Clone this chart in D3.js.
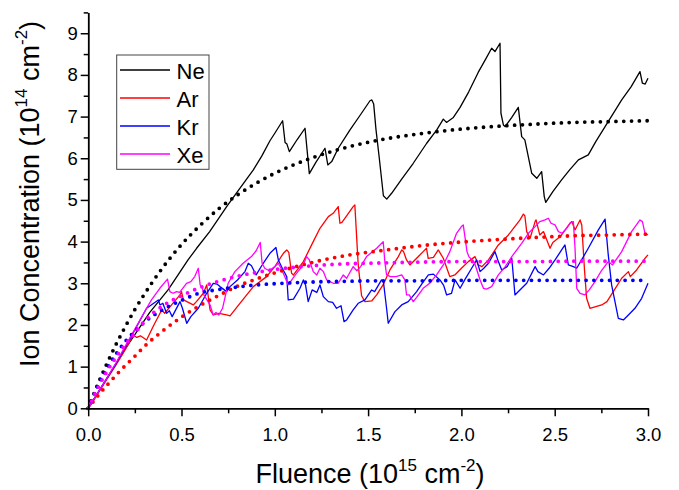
<!DOCTYPE html>
<html>
<head>
<meta charset="utf-8">
<script src="https://cdn.jsdelivr.net/npm/d3@7"></script>
<style>
  html, body { margin: 0; padding: 0; background: #ffffff; }
  svg { display: block; font-family: "Liberation Sans", Arial, sans-serif; }
</style>
</head>
<body>
<svg id="chart" width="679" height="490"></svg>
<script>
// Measured ion concentration (1e14 cm^-2) versus fluence (1e15 cm^-2), [fluence, concentration]
const neData = [[0,0],[0.05,0.36],[0.1,0.72],[0.15,1.08],[0.2,1.44],[0.267,1.88],[0.33,2.3],[0.428,2.84],[0.535,3.56],[0.581,3.84],[0.651,4.24],[0.742,4.84],[0.8,5.2],[0.885,5.72],[0.93,6.05],[0.974,6.42],[1.0,6.6],[1.042,6.9],[1.055,6.38],[1.065,6.34],[1.078,6.16],[1.12,6.45],[1.162,6.72],[1.185,5.63],[1.22,5.9],[1.269,6.24],[1.284,5.84],[1.305,5.92],[1.34,6.24],[1.403,6.68],[1.46,7.05],[1.51,7.38],[1.52,7.4],[1.53,7.3],[1.542,6.7],[1.56,6.0],[1.582,5.1],[1.6,5.02],[1.626,5.16],[1.68,5.5],[1.742,5.88],[1.814,6.36],[1.868,6.68],[1.903,6.94],[1.92,6.86],[1.957,6.98],[1.993,7.22],[2.04,7.6],[2.09,8.06],[2.13,8.38],[2.162,8.64],[2.18,8.56],[2.207,8.76],[2.212,7.08],[2.225,6.8],[2.234,6.76],[2.27,6.98],[2.305,7.22],[2.323,6.52],[2.34,6.44],[2.377,5.64],[2.404,5.52],[2.43,5.68],[2.444,5.08],[2.452,4.94],[2.49,5.2],[2.537,5.48],[2.58,5.72],[2.627,5.96],[2.68,6.08],[2.72,6.4],[2.77,6.76],[2.82,7.12],[2.859,7.4],[2.91,7.72],[2.957,8.08],[2.97,7.8],[2.985,7.78],[3.0,7.92]];

const arData = [[0,0],[0.05,0.34],[0.1,0.7],[0.15,1.05],[0.2,1.42],[0.242,1.76],[0.26,1.7],[0.28,1.74],[0.313,1.64],[0.35,1.98],[0.394,2.36],[0.41,2.28],[0.45,2.5],[0.492,2.72],[0.5,2.8],[0.51,2.6],[0.563,2.48],[0.58,2.56],[0.617,2.76],[0.635,2.96],[0.653,2.36],[0.67,2.24],[0.7,2.28],[0.742,2.24],[0.76,2.22],[0.813,2.52],[0.885,2.92],[0.956,3.16],[1.0,3.4],[1.046,3.72],[1.064,3.8],[1.075,3.74],[1.09,3.24],[1.1,3.2],[1.153,3.52],[1.206,4.0],[1.242,4.32],[1.287,4.6],[1.313,4.68],[1.34,4.84],[1.349,4.44],[1.36,4.46],[1.42,4.84],[1.429,4.88],[1.447,3.44],[1.465,2.7],[1.483,2.56],[1.52,2.58],[1.546,2.72],[1.58,2.96],[1.617,3.32],[1.662,3.64],[1.68,3.8],[1.69,3.76],[1.706,3.56],[1.724,3.44],[1.76,3.6],[1.795,3.76],[1.813,3.84],[1.822,3.6],[1.85,3.62],[1.876,3.8],[1.903,3.6],[1.938,3.16],[1.965,3.2],[2.0,3.36],[2.037,3.52],[2.073,3.64],[2.09,3.44],[2.11,3.4],[2.145,3.56],[2.198,3.92],[2.252,4.16],[2.279,4.32],[2.314,4.52],[2.332,4.66],[2.34,4.62],[2.35,4.24],[2.368,4.08],[2.395,4.48],[2.4,4.52],[2.42,4.16],[2.44,4.24],[2.475,3.84],[2.49,3.98],[2.53,4.12],[2.582,4.44],[2.592,4.48],[2.609,4.28],[2.636,4.52],[2.645,4.4],[2.66,3.3],[2.671,2.64],[2.689,2.4],[2.72,2.44],[2.752,2.48],[2.78,2.56],[2.814,2.8],[2.859,3.12],[2.895,3.28],[2.905,3.16],[2.939,3.32],[2.984,3.6],[3.0,3.68]];

const krData = [[0,0],[0.05,0.36],[0.1,0.72],[0.15,1.08],[0.2,1.48],[0.25,1.88],[0.313,2.4],[0.376,2.6],[0.385,2.48],[0.4,2.52],[0.42,2.28],[0.435,2.34],[0.45,2.2],[0.492,2.56],[0.505,2.4],[0.528,2.04],[0.55,2.2],[0.59,2.4],[0.635,2.76],[0.67,3.0],[0.69,2.98],[0.706,2.92],[0.742,2.8],[0.76,2.92],[0.8,3.08],[0.84,3.28],[0.858,3.48],[0.875,3.42],[0.9,3.2],[0.938,3.48],[0.974,3.72],[1.006,3.86],[1.019,3.56],[1.04,3.36],[1.064,3.16],[1.072,2.6],[1.1,2.62],[1.135,2.88],[1.153,3.08],[1.165,2.95],[1.179,2.56],[1.2,2.84],[1.225,2.78],[1.242,2.96],[1.26,2.68],[1.287,2.56],[1.31,2.54],[1.331,2.4],[1.355,2.46],[1.371,2.08],[1.385,2.12],[1.42,2.36],[1.447,2.52],[1.483,2.6],[1.501,2.72],[1.519,2.84],[1.535,2.8],[1.572,3.08],[1.582,3.04],[1.599,2.4],[1.608,2.04],[1.644,2.32],[1.68,2.48],[1.715,2.56],[1.76,2.8],[1.79,3.0],[1.823,3.2],[1.85,3.22],[1.885,3.08],[1.905,2.95],[1.921,2.72],[1.947,2.76],[1.966,3.08],[1.993,2.88],[2.02,3.1],[2.055,3.36],[2.082,3.56],[2.1,3.28],[2.12,3.36],[2.145,3.48],[2.18,3.76],[2.198,3.52],[2.216,3.32],[2.245,3.4],[2.27,3.6],[2.287,2.72],[2.323,2.88],[2.35,3.0],[2.395,3.4],[2.41,3.28],[2.44,3.2],[2.47,3.36],[2.502,3.56],[2.537,3.8],[2.555,3.92],[2.573,3.44],[2.6,3.4],[2.618,3.36],[2.68,3.84],[2.734,4.28],[2.77,4.54],[2.787,3.68],[2.805,2.96],[2.841,2.16],[2.868,2.12],[2.895,2.24],[2.93,2.4],[2.966,2.64],[3.0,3.0]];

const xeData = [[0,0],[0.05,0.36],[0.1,0.72],[0.15,1.1],[0.2,1.5],[0.25,1.9],[0.3,2.3],[0.339,2.6],[0.384,2.88],[0.425,3.1],[0.4375,2.8],[0.455,2.76],[0.473,2.8],[0.49,2.78],[0.527,3.0],[0.55,3.04],[0.571,3.16],[0.59,3.36],[0.6,2.96],[0.61,2.92],[0.62,2.72],[0.653,2.48],[0.67,2.24],[0.685,2.3],[0.7,2.24],[0.72,2.4],[0.75,3.0],[0.786,3.28],[0.83,3.48],[0.875,3.64],[0.9,3.78],[0.922,3.98],[0.932,3.48],[0.946,3.36],[0.97,3.3],[1.0,3.4],[1.019,3.48],[1.04,3.3],[1.072,2.96],[1.11,3.2],[1.153,3.44],[1.17,3.64],[1.185,3.56],[1.206,3.28],[1.225,3.2],[1.242,3.36],[1.26,3.28],[1.278,3.08],[1.313,3.0],[1.34,3.0],[1.367,3.2],[1.385,3.12],[1.4,3.24],[1.42,3.4],[1.44,3.3],[1.46,3.4],[1.492,3.64],[1.546,3.84],[1.581,4.0],[1.59,3.5],[1.599,3.2],[1.62,3.16],[1.65,3.16],[1.68,3.2],[1.697,3.08],[1.706,2.72],[1.72,2.72],[1.742,2.56],[1.76,2.66],[1.795,2.88],[1.83,3.0],[1.867,3.2],[1.903,3.44],[1.938,3.76],[1.974,4.2],[2.0,4.36],[2.01,4.4],[2.03,3.76],[2.04,3.64],[2.07,3.5],[2.1,3.08],[2.118,2.88],[2.135,2.86],[2.162,2.92],[2.198,3.2],[2.235,3.4],[2.27,3.64],[2.323,3.96],[2.359,4.2],[2.395,4.36],[2.42,4.48],[2.448,4.52],[2.466,4.56],[2.48,4.44],[2.502,4.4],[2.52,4.24],[2.54,4.2],[2.56,4.3],[2.582,4.44],[2.6,4.48],[2.609,3.84],[2.618,2.88],[2.636,2.76],[2.662,2.72],[2.685,2.84],[2.716,3.04],[2.75,3.3],[2.787,3.52],[2.81,3.44],[2.859,3.76],[2.912,4.24],[2.957,4.52],[2.97,4.48],[2.984,4.2],[3.0,4.16]];

// Saturation fits, sampled along the fluence grid below
const fitFluence = [0,0.05,0.1,0.15,0.2,0.25,0.3,0.4,0.5,0.6,0.7,0.8,0.9,1.0,1.2,1.4,1.6,1.8,2.0,2.2,2.4,2.6,2.8,3.0];
const neFit = [0,0.56,1.07,1.54,1.97,2.37,2.73,3.38,3.93,4.39,4.79,5.12,5.40,5.64,6.01,6.28,6.47,6.60,6.70,6.77,6.82,6.86,6.88,6.90];
const arFit = [0,0.29,0.55,0.80,1.03,1.25,1.48,1.86,2.19,2.47,2.71,2.93,3.10,3.25,3.50,3.68,3.80,3.91,3.99,4.05,4.10,4.14,4.16,4.18];
const krFit = [0,0.52,0.95,1.31,1.61,1.85,2.06,2.37,2.59,2.77,2.85,2.91,2.96,2.99,3.03,3.05,3.06,3.06,3.07,3.07,3.07,3.07,3.07,3.07];
const xeFit = [0,0.47,0.88,1.23,1.54,1.80,2.08,2.46,2.70,2.90,3.05,3.17,3.26,3.33,3.42,3.47,3.49,3.51,3.52,3.52,3.52,3.53,3.53,3.53];

const seriesNames = ["Ne", "Ar", "Kr", "Xe"];
const seriesColors = ["#000000", "#ff0000", "#0000ff", "#ff00ff"];

const xMajorTicks = [0, 0.5, 1.0, 1.5, 2.0, 2.5, 3.0];
const xMinorTicks = [0.25, 0.75, 1.25, 1.75, 2.25, 2.75];
const yMajorTicks = [0, 1, 2, 3, 4, 5, 6, 7, 8, 9];
const yMinorTicks = [0.5, 1.5, 2.5, 3.5, 4.5, 5.5, 6.5, 7.5, 8.5, 9.5];

const svg = d3.select("#chart");
const plot = { left: 88.2, right: 648, top: 12.4, bottom: 408.3 };

const x = d3.scaleLinear().domain([0, 3]).range([plot.left, plot.right]);
const y = d3.scaleLinear().domain([0, 9.5]).range([plot.bottom, plot.top]);

// Measured curves
const measured = [neData, arData, krData, xeData];
const line = d3.line().x(d => x(d[0])).y(d => y(d[1]));
svg.append("g").selectAll("path").data(measured).join("path")
  .attr("d", line)
  .attr("fill", "none")
  .attr("stroke", (d, i) => seriesColors[i])
  .attr("stroke-width", 1.3)
  .attr("stroke-linejoin", "round");

// Dotted fit curves
const fits = [neFit, arFit, krFit, xeFit];
const fitLine = d3.line()
  .x((d, i) => x(fitFluence[i]))
  .y(d => y(d))
  .curve(d3.curveMonotoneX);
svg.append("g").selectAll("path").data(fits).join("path")
  .attr("d", fitLine)
  .attr("fill", "none")
  .attr("stroke", (d, i) => seriesColors[i])
  .attr("stroke-width", 3.8)
  .attr("stroke-linecap", "round")
  .attr("stroke-dasharray", "0 7.8");

// Axes
function styleAxis(g) {
  g.selectAll(".domain").attr("stroke", "#000").attr("stroke-width", 1.5);
  g.selectAll(".tick line").attr("stroke", "#000").attr("stroke-width", 1.5);
  g.selectAll(".tick text").attr("fill", "#000")
    .style("font-family", "'Liberation Sans', Arial, sans-serif")
    .style("font-size", "18.5px");
}

svg.append("g")
  .attr("transform", `translate(0,${plot.bottom})`)
  .call(d3.axisBottom(x).tickValues(xMinorTicks).tickSize(5).tickSizeOuter(0).tickFormat(""))
  .call(styleAxis);
svg.append("g")
  .attr("transform", `translate(0,${plot.bottom})`)
  .call(d3.axisBottom(x).tickValues(xMajorTicks).tickSize(8).tickSizeOuter(0).tickPadding(12).tickFormat(d3.format(".1f")))
  .call(styleAxis);

svg.append("g")
  .attr("transform", `translate(${plot.left},0)`)
  .call(d3.axisLeft(y).tickValues(yMinorTicks).tickSize(4.5).tickSizeOuter(0).tickFormat(""))
  .call(styleAxis);
svg.append("g")
  .attr("transform", `translate(${plot.left},0)`)
  .call(d3.axisLeft(y).tickValues(yMajorTicks).tickSize(7.5).tickSizeOuter(0).tickPadding(3).tickFormat(d3.format("d")))
  .call(styleAxis);

// Axis titles with superscripted exponents
function titleWithExponents(sel, base, exp1, unit, exp2, supSize, rise) {
  sel.append("tspan").text(base);
  sel.append("tspan").attr("dy", -rise).style("font-size", supSize + "px").text(exp1);
  sel.append("tspan").attr("dy", rise).text(" " + unit);
  sel.append("tspan").attr("dy", -rise).style("font-size", supSize + "px").text(exp2);
  sel.append("tspan").attr("dy", rise).text(")");
}

const xTitle = svg.append("text")
  .attr("x", 370).attr("y", 483)
  .attr("text-anchor", "middle")
  .style("font-size", "27px")
  .attr("fill", "#000");
titleWithExponents(xTitle, "Fluence (10", "15", "cm", "-2", 17, 12);

const yTitle = svg.append("text")
  .attr("transform", "translate(38.5,194) rotate(-90)")
  .attr("text-anchor", "middle")
  .style("font-size", "27px")
  .attr("fill", "#000");
titleWithExponents(yTitle, "Ion Concentration (10", "14", "cm", "-2", 17, 12);

// Legend
const legend = svg.append("g");
legend.append("rect")
  .attr("x", 116.7).attr("y", 55).attr("width", 92.3).attr("height", 114.3)
  .attr("fill", "#fff").attr("stroke", "#444").attr("stroke-width", 1);
const rows = legend.selectAll("g.row").data(seriesNames).join("g")
  .attr("class", "row")
  .attr("transform", (d, i) => `translate(0,${70 + i * 28})`);
rows.append("line")
  .attr("x1", 120).attr("x2", 170).attr("y1", 0).attr("y2", 0)
  .attr("stroke", (d, i) => seriesColors[i]).attr("stroke-width", 1.3);
rows.append("text")
  .attr("x", 176.5).attr("y", 8.5)
  .style("font-size", "22px")
  .attr("fill", "#000")
  .text(d => d);
</script>
</body>
</html>
